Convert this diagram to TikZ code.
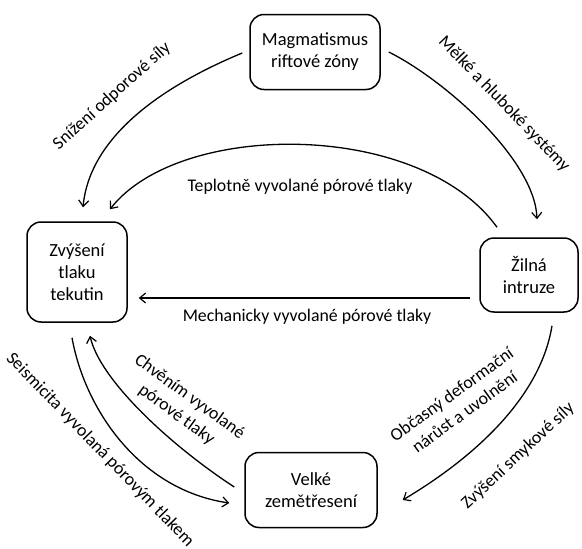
\documentclass[tikz,border=0pt]{standalone}
\usepackage{fontspec}
\setmainfont{Carlito}
\usetikzlibrary{arrows.meta,calc}
\begin{document}
\begin{tikzpicture}[x=1pt,y=-1pt,
  box/.style={draw,line width=1.5pt,rounded corners=14pt,align=center,font=\fontsize{18.5}{22}\selectfont,inner sep=0pt},
  lab/.style={font=\fontsize{17.8}{22}\selectfont,align=center,inner sep=0pt},
  arr/.style={line width=1.3pt,-{Straight Barb[length=6pt,width=10pt,line width=1.2pt]}}]
\useasboundingbox[fill=white] (0,0) rectangle (582,549);
\node[box,minimum width=130pt,minimum height=75pt] (mag) at (315,52) {Magmatismus\\riftové zóny};
\node[box,minimum width=100pt,minimum height=100pt] (zvy) at (77,272) {Zvýšení\\tlaku\\tekutin};
\node[box,minimum width=98pt,minimum height=74pt] (zil) at (529,275) {Žilná\\intruze};
\node[box,minimum width=132pt,minimum height=75pt] (vel) at (311,490) {Velké\\zemětřesení};

% Magmatismus -> Zvyseni
\draw[arr] ([xshift=-7pt,yshift=-1pt]mag.west) .. controls (165,85) and (90,135) .. ([xshift=6pt,yshift=14pt]zvy.north);
% Magmatismus -> Zilna
\draw[arr] ([xshift=8pt]mag.east) .. controls (445,80) and (535,160) .. ([xshift=8pt,yshift=18pt]zil.north);
% Zilna -> Zvyseni (teplotne)
\draw[arr] ([xshift=-32pt,yshift=10pt]zil.north) .. controls (420,120) and (180,120) .. ([xshift=33pt,yshift=12pt]zvy.north);
% Zilna -> Zvyseni (mechanicky)
\draw[arr] ([xshift=-9pt,yshift=-23pt]zil.west) -- ([xshift=11pt,yshift=-26pt]zvy.east);
% Zilna -> Velke
\draw[arr] ([xshift=23pt,yshift=-13pt]zil.south) .. controls (540,400) and (470,460) .. ([xshift=25pt,yshift=-10pt]vel.east);
% Zvyseni -> Velke
\draw[arr] ([xshift=-5pt,yshift=-15pt]zvy.south) .. controls (85,410) and (140,490) .. ([xshift=-15pt,yshift=-13pt]vel.west);
% Velke -> Zvyseni
\draw[arr] ([xshift=-10pt,yshift=3pt]vel.west) .. controls (170,445) and (100,380) .. ([xshift=13pt,yshift=-13pt]zvy.south);

\node[lab,rotate=42] (l1) at (112,96) {Snížení odporové síly};
\node[lab,rotate=-46] (l2) at (504,104) {Mělké a hluboké systémy};
\node[lab] (l3) at (300,187) {Teplotně vyvolané pórové tlaky};
\node[lab] (l4) at (307,317) {Mechanicky vyvolané pórové tlaky};
\node[lab,rotate=36] (l5) at (458,403) {Občasný deformační\\nárůst a uvolnění};
\node[lab,rotate=43] (l6) at (518,456) {Zvýšení smykové síly};
\node[lab,rotate=-46] (l7) at (100,450) {Seismicita vyvolaná pórovým tlakem};
\node[lab,rotate=-36] (l8) at (183,406) {Chvěním vyvolané\\pórové tlaky};
\end{tikzpicture}
\end{document}
